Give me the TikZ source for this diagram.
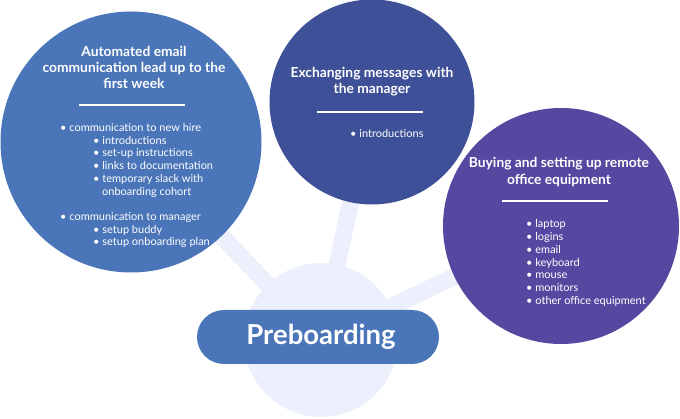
\documentclass[tikz,border=0pt]{standalone}
\usepackage{fontspec}
\setmainfont{Lato}
\definecolor{blueA}{RGB}{74,117,185}
\definecolor{blueB}{RGB}{62,81,152}
\definecolor{purp}{RGB}{86,72,160}
\definecolor{lite}{RGB}{236,240,252}
\pgfdeclarelayer{bg}
\pgfsetlayers{bg,main}
\begin{document}
\begin{tikzpicture}[x=1pt,y=-1pt,
  bigcirc/.style={circle,inner sep=0pt,draw=none},
  band/.style={draw=lite,line width=17pt},
  head/.style={anchor=base,text=white,font=\fontsize{13.8}{16}\selectfont\bfseries,inner sep=0pt},
  item/.style={anchor=base west,text=white,font=\fontsize{11}{12}\selectfont,inner sep=0pt},
  sep/.style={draw=white,line width=1.4pt},
  pill/.style={rounded corners=27pt,fill=blueA,minimum width=242pt,minimum height=54pt,inner sep=0pt}]
\useasboundingbox (0,0) rectangle (680,419);
% circles
\node[bigcirc,fill=lite,minimum size=154pt] (C) at (321,340) {};
\node[bigcirc,fill=blueA,minimum size=261pt] (L) at (131,142) {};
\node[bigcirc,fill=blueB,minimum size=205pt] (M) at (372,102) {};
\node[bigcirc,fill=purp,minimum size=236pt] (R) at (561,226) {};
\begin{pgfonlayer}{bg}
\draw[band] (C.center) -- (L.center);
\draw[band] (C.center) -- (M.center);
\draw[band] (C.center) -- (R.center);
\end{pgfonlayer}
% pill
\node[pill] (P) at (318,337) {};
\node[anchor=base,text=white,inner sep=0pt,font=\fontsize{27.5}{30}\selectfont\bfseries] (PT) at (321,344.5) {Preboarding};
% left circle text
\node[head] (lh1) at (134,57) {Automated email};
\node[head] (lh2) at (134,73) {communication lead up to the};
\node[head] (lh3) at (134,88.5) {first week};
\coordinate (ls1) at (79,105);
\coordinate (ls2) at (185,105);
\draw[sep] (ls1) -- (ls2);
\node[item] (l1) at (60,132) {• communication to new hire};
\node[item] (l2) at (93,144.5) {• introductions};
\node[item] (l3) at (93,157) {• set-up instructions};
\node[item] (l4) at (93,170) {• links to documentation};
\node[item] (l5) at (93,183) {• temporary slack with};
\node[item] (l6) at (102,195.5) {onboarding cohort};
\node[item] (l7) at (60,221) {• communication to manager};
\node[item] (l8) at (93,233.5) {• setup buddy};
\node[item] (l9) at (93,246) {• setup onboarding plan};
% middle circle text
\node[head] (mh1) at (372,78) {Exchanging messages with};
\node[head] (mh2) at (372,94) {the manager};
\coordinate (ms1) at (317,112);
\coordinate (ms2) at (423,112);
\draw[sep] (ms1) -- (ms2);
\node[item] (m1) at (350,138) {• introductions};
% right circle text
\node[head] (rh1) at (559,168) {Buying and setting up remote};
\node[head] (rh2) at (559,185) {office equipment};
\coordinate (rs1) at (502,201);
\coordinate (rs2) at (608,201);
\draw[sep] (rs1) -- (rs2);
\node[item] (r1) at (526,228) {• laptop};
\node[item] (r2) at (526,241) {• logins};
\node[item] (r3) at (526,254) {• email};
\node[item] (r4) at (526,266.5) {• keyboard};
\node[item] (r5) at (526,279) {• mouse};
\node[item] (r6) at (526,292) {• monitors};
\node[item] (r7) at (526,305) {• other office equipment};
\end{tikzpicture}
\end{document}
